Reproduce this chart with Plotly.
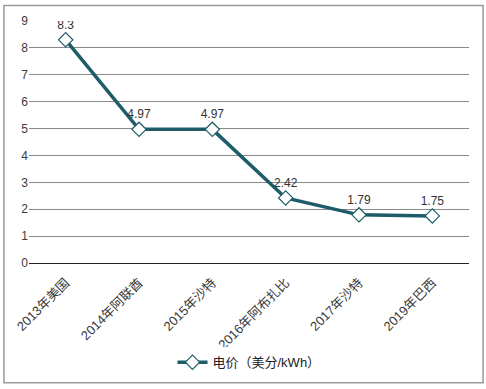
import plotly.graph_objects as go

categories = ["2013年美国", "2014年阿联酋", "2015年沙特", "2016年阿布扎比", "2017年沙特", "2019年巴西"]
values = [8.3, 4.97, 4.97, 2.42, 1.79, 1.75]
labels = ["8.3", "4.97", "4.97", "2.42", "1.79", "1.75"]
series_name = "电价（美分/kWh）"

font_family = "Liberation Sans, Arial, Noto Sans CJK SC, sans-serif"
teal = "#1d5c68"

fig = go.Figure()
fig.add_trace(go.Scatter(
    x=categories, y=values, mode="lines+markers+text", name=series_name,
    text=labels, textposition="top center",
    textfont=dict(size=12, color="#333333", family=font_family),
    line=dict(color=teal, width=3.5),
    marker=dict(symbol="diamond", size=11, color="white", line=dict(color=teal, width=1.2)),
))

fig.update_layout(
    width=486, height=389,
    margin=dict(l=29, r=17, t=21, b=126),
    paper_bgcolor="white", plot_bgcolor="white",
    font=dict(family=font_family, size=12, color="#333333"),
    showlegend=True,
    legend=dict(orientation="h", x=0.5, xanchor="center", y=-0.41, yanchor="middle",
                font=dict(size=13, color="#222222")),
    xaxis=dict(type="category", range=[-0.5, 5.5], tickangle=-45, showgrid=False,
               showline=False, ticks="outside", ticklen=6, tickcolor="rgba(0,0,0,0)",
               automargin=False, tickfont=dict(size=13, color="#3a3a3a")),
    yaxis=dict(range=[0, 9], dtick=1, showgrid=True, gridcolor="#8a8a8a", gridwidth=1,
               zeroline=True, zerolinecolor="#222222", zerolinewidth=1.2, automargin=False,
               showline=False, ticks="", tickfont=dict(size=12, color="#3a3a3a")),
    shapes=[dict(type="rect", xref="paper", yref="paper", x0=-0.057, x1=1.032, y0=-0.495, y1=1.064,
                 line=dict(color="#999999", width=1.5), fillcolor="rgba(0,0,0,0)", layer="below")],
)

fig.write_html("out.html", config={"displayModeBar": False},
               post_script="document.body.style.margin='0';document.body.style.overflow='hidden';")
